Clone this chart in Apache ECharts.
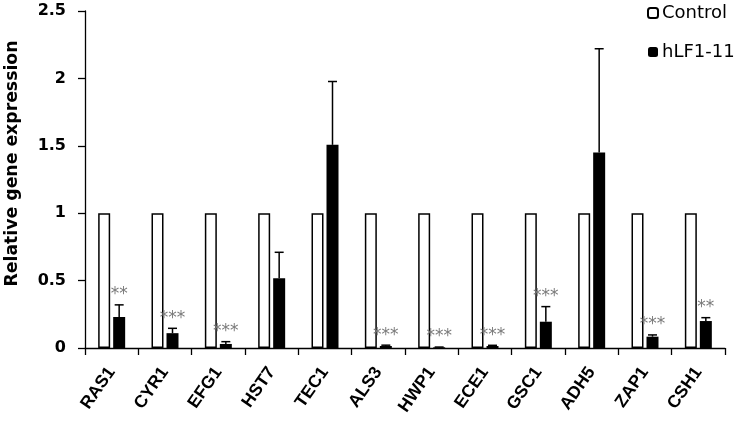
<!DOCTYPE html>
<html><head><meta charset="utf-8">
<script src="https://cdn.jsdelivr.net/npm/echarts@6/dist/echarts.min.js"></script>
<style>html,body{margin:0;padding:0;background:#fff}#c{width:739px;height:422px}</style>
</head><body><div id="c"></div>
<script>
var genes = ['RAS1','CYR1','EFG1','HST7','TEC1','ALS3','HWP1','ECE1','GSC1','ADH5','ZAP1','CSH1'];
var control = [1,1,1,1,1,1,1,1,1,1,1,1];
var treated = [0.23,0.11,0.03,0.517,1.507,0.015,0.005,0.015,0.195,1.45,0.084,0.2];
var treatedErr = [0.09,0.036,0.017,0.193,0.47,0.006,0.002,0.005,0.112,0.77,0.013,0.025];
var signif = ['**','***','***','','','***','***','***','***','','***','**'];
var yTicks = [0,0.5,1,1.5,2,2.5];

var errData = treated.map(function(v,i){return [i, v, treatedErr[i]];});
var chart = echarts.init(document.getElementById('c'));
var bold = 'DejaVu Sans';
chart.setOption({
  animation:false,
  grid:{left:85,right:14,top:11,bottom:74,containLabel:false,outerBoundsMode:'none'},
  legend:{orient:'vertical',left:642,top:-2,itemWidth:10,itemHeight:10,itemGap:19,
    textStyle:{fontFamily:'DejaVu Sans',fontSize:18,color:'#000',lineHeight:20,padding:[0,0,0,-1]},
    data:['Control','hLF1-11']},
  xAxis:{type:'category',data:genes,
    axisLine:{lineStyle:{color:'#000',width:1.3}},
    axisTick:{show:true,length:7,lineStyle:{color:'#000',width:1.3}},
    axisLabel:{rotate:55,margin:21,fontFamily:'Liberation Sans',fontWeight:'bold',fontSize:17.5,color:'#000',interval:0}},
  yAxis:{type:'value',min:yTicks[0],max:yTicks[yTicks.length-1],interval:0.5,
    name:'Relative gene expression',nameLocation:'middle',nameGap:64,
    nameTextStyle:{fontFamily:bold,fontWeight:'bold',fontSize:17.3,color:'#000',padding:[0,0,0,32]},
    axisLine:{show:true,lineStyle:{color:'#000',width:1.3}},
    axisTick:{show:true,length:7,lineStyle:{color:'#000',width:1.3}},
    splitLine:{show:false},
    axisLabel:{margin:19,fontFamily:bold,fontWeight:'bold',fontSize:16,color:'#000'}},
  series:[
    {name:'Control',type:'bar',data:control,barWidth:12,barGap:'25%',
      itemStyle:{color:'#fff',borderColor:'#000',borderWidth:1.5}},
    {name:'hLF1-11',type:'bar',data:treated,barWidth:12,barGap:'25%',
      itemStyle:{color:'#000',borderColor:'#000',borderWidth:0}},
    {type:'custom',data:errData,z:10,
      renderItem:function(params,api){
        var i=api.value(0), v=api.value(1), e=api.value(2);
        var s=signif[i];
        var p0=api.coord([i,v]); var p1=api.coord([i,v+e]);
        var x=p0[0]+7.5;
        var children=[
          {type:'line',shape:{x1:x,y1:p0[1],x2:x,y2:p1[1]},style:{stroke:'#000',lineWidth:1.5}},
          {type:'line',shape:{x1:x-4.5,y1:p1[1],x2:x+4.5,y2:p1[1]},style:{stroke:'#000',lineWidth:1.5}}
        ];
        if(s){children.push({type:'text',style:{text:s,x:x,y:p1[1]-10,align:'center',verticalAlign:'middle',
          fontFamily:'DejaVu Sans',fontSize:17,fill:'#7a7a7a'}});}
        return {type:'group',children:children};
      }}
  ]
});
</script></body></html>
